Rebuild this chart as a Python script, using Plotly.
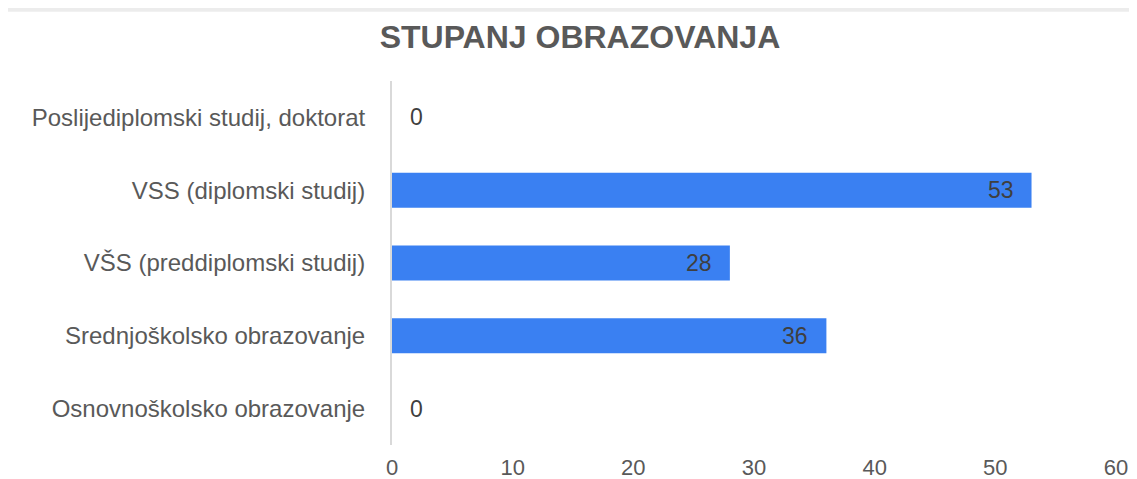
import plotly.graph_objects as go

categories = [
    "Osnovnoškolsko obrazovanje",
    "Srednjoškolsko obrazovanje",
    "VŠS (preddiplomski studij)",
    "VSS (diplomski studij)",
    "Poslijediplomski studij, doktorat",
]
values = [0, 36, 28, 53, 0]
x_ticks = [0, 10, 20, 30, 40, 50, 60]
title_text = "STUPANJ OBRAZOVANJA"

FONT = "Liberation Sans, Arial, sans-serif"

fig = go.Figure()
fig.add_trace(go.Bar(
    y=categories,
    x=values,
    orientation="h",
    width=0.48,
    marker=dict(color="#3a80f2", line=dict(width=0)),
    hoverinfo="x+y",
))

annotations = []
for cat, v in zip(categories, values):
    if v > 0:
        annotations.append(dict(x=v, y=cat, xref="x", yref="y", text=str(v),
                                showarrow=False, xanchor="right", xshift=-16,
                                font=dict(family=FONT, size=23, color="#3f3f3f")))
    else:
        annotations.append(dict(x=v, y=cat, xref="x", yref="y", text=str(v),
                                showarrow=False, xanchor="left", xshift=16,
                                font=dict(family=FONT, size=23, color="#3f3f3f")))

shapes = [
    dict(type="rect", xref="paper", yref="paper", x0=-0.6, x1=1.1, y0=1.19, y1=1.25,
         fillcolor="#ececec", line=dict(width=0), layer="above"),
]

fig.update_layout(
    width=1129,
    height=471,
    margin=dict(l=384, r=21, t=73, b=34, autoexpand=False),
    paper_bgcolor="white",
    plot_bgcolor="white",
    showlegend=False,
    title=dict(text="<b>" + title_text + "</b>", x=0.5066, xref="container", xanchor="center",
               y=0.938, yref="container", yanchor="middle",
               font=dict(family=FONT, size=32, color="#595959")),
    font=dict(family=FONT, size=24, color="#595959"),
    annotations=annotations,
    shapes=shapes,
)
fig.update_xaxes(range=[0, 60], tickvals=x_ticks, showgrid=False, zeroline=False,
                 showline=False, ticks="", ticklabelstandoff=7, automargin=False,
                 tickfont=dict(family=FONT, size=22, color="#595959"), fixedrange=True)
fig.update_yaxes(categoryorder="array", categoryarray=categories, showgrid=False,
                 showline=True, linecolor="#d9d9d9", linewidth=2, ticks="",
                 ticklabelstandoff=20, automargin=False,
                 tickfont=dict(family=FONT, size=24, color="#595959"),
                 range=[-0.5, 4.5], fixedrange=True)

fig.write_html("out.html")
